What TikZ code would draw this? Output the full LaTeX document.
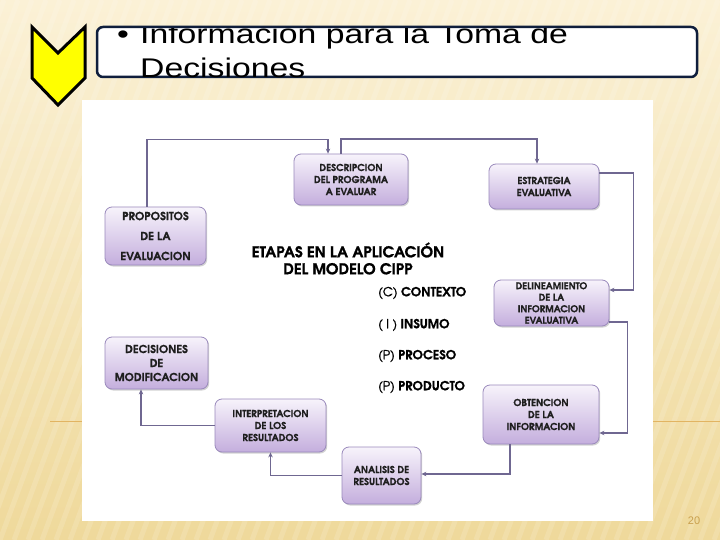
\documentclass[tikz,border=0pt]{standalone}
\usepackage{fontspec}
\setmainfont{Liberation Sans}
\newfontfamily\gothic[BoldFeatures={FakeBold=0.8}]{TeX Gyre Adventor}
\newfontfamily\gothicmed[FakeBold=0.9]{TeX Gyre Adventor}
\usetikzlibrary{arrows.meta,shadows}
\definecolor{bgtop}{HTML}{FBF1D6}
\definecolor{bgbot}{HTML}{EFD99B}
\definecolor{navy}{HTML}{0F1E3C}
\definecolor{chev}{HTML}{FFFF00}
\definecolor{boxtop}{HTML}{F7F3FB}
\definecolor{boxbot}{HTML}{C4AEDD}
\definecolor{boxline}{HTML}{9A8ABC}
\definecolor{connc}{HTML}{6F6791}
\definecolor{txt}{HTML}{1E1E1E}
\definecolor{pagenum}{HTML}{C9A04E}
\definecolor{rule}{HTML}{E2B462}
\tikzset{
  stage/.style={draw=boxline, line width=0.8pt, rounded corners=7pt,
    top color=boxtop, bottom color=boxbot, inner sep=0pt, align=center,
    text=txt, font=\gothic\bfseries\fontsize{9.6}{12}\selectfont,
    drop shadow={shadow xshift=1.2pt, shadow yshift=-1.5pt, opacity=0.35, fill=gray}},
  bigstage/.style={stage, font=\gothic\bfseries\fontsize{11}{14}\selectfont},
  conn/.style={draw=connc, line width=1.6pt, -{Stealth[length=5pt,width=4.5pt]}},
  listitem/.style={anchor=west, inner sep=0pt, text=black, font=\gothic\fontsize{12.5}{14}\selectfont},
  titletext/.style={anchor=base west, inner sep=0pt, text=black, font=\fontsize{27}{36}\selectfont}
}
\begin{document}
\begin{tikzpicture}[x=1pt,y=-1pt]
\useasboundingbox (0,0) rectangle (720,540);
% background
\shade[top color=bgtop, bottom color=bgbot] (0,0) rectangle (720,540);
\begin{scope}
  \clip (0,0) rectangle (720,540);
  \foreach \i in {-20,...,55}
    \draw[white, opacity=0.14, line width=5pt] (\i*14,540) -- (\i*14+200,0);
\end{scope}
\draw[rule, line width=0.8pt] (50,421) -- (720,421);
% white panel
\fill[white] (82,100) rectangle (653,521);
% chevron
\draw[line width=3pt, fill=chev, line join=miter] (32,27) -- (58,53) -- (85,27) -- (85,78) -- (58,105) -- (32,78) -- cycle;
% title box
\draw[navy, line width=2.5pt, fill=white, rounded corners=6pt] (97,27) rectangle (697,77);
\begin{scope}
  \clip (0,28.5) rectangle (720,540);
  \node[titletext] (bul) at (117,44) {\scalebox{1.25}[1]{•}};
  \node[titletext] (t1) at (140,44) {\scalebox{1.25}[1]{Información para la Toma de}};
  \node[titletext] (t2) at (140,78) {\scalebox{1.25}[1]{Decisiones}};
\end{scope}
% stages
\node[stage, minimum width=114pt, minimum height=51pt] (desc) at (351,179.5) {DESCRIPCION\\DEL PROGRAMA\\A EVALUAR};
\node[stage, minimum width=110pt, minimum height=45pt] (estr) at (544,186.5) {ESTRATEGIA\\EVALUATIVA};
\node[bigstage, minimum width=101pt, minimum height=58pt, font=\gothic\bfseries\fontsize{11.2}{20}\selectfont] (prop) at (155.5,236) {PROPOSITOS\\DE LA\\EVALUACION};
\node[stage, minimum width=115pt, minimum height=46pt, font=\gothic\bfseries\fontsize{9.4}{11.5}\selectfont] (delin) at (551.5,303) {DELINEAMIENTO\\DE LA\\INFORMACION\\EVALUATIVA};
\node[bigstage, minimum width=103pt, minimum height=52pt] (decis) at (156.5,363) {DECISIONES\\DE\\MODIFICACION};
\node[stage, minimum width=116pt, minimum height=59pt] (obten) at (541,414.5) {OBTENCION\\DE LA\\INFORMACION};
\node[stage, minimum width=111pt, minimum height=53pt] (interp) at (270.5,425.5) {INTERPRETACION\\DE LOS\\RESULTADOS};
\node[stage, minimum width=79pt, minimum height=57pt] (anal) at (381.5,475.5) {ANALISIS DE\\RESULTADOS};
% heading and list
\node[align=center, inner sep=0pt, text=black, font=\gothic\bfseries\fontsize{15}{17}\selectfont] (etapas) at (348,258.5) {ETAPAS EN LA APLICACIÓN\\DEL MODELO CIPP};
\node[listitem] (lc) at (378,293) {{\gothicmed (C)} \textbf{CONTEXTO}};
\node[listitem] (li) at (378,325) {{\gothicmed ( I )} \textbf{INSUMO}};
\node[listitem] (lp1) at (378,356) {{\gothicmed (P)} \textbf{PROCESO}};
\node[listitem] (lp2) at (378,387) {{\gothicmed (P)} \textbf{PRODUCTO}};
% connectors
\draw[conn] ([xshift=-8.5pt]prop.north) -- ++(0,-67) -| ([xshift=-23pt]desc.north);
\draw[conn] ([xshift=-10pt]desc.north) -- ++(0,-14.5) -| ([xshift=-7pt]estr.north);
\draw[conn] ([yshift=13.5pt]estr.east) -- ++(34,0) |- ([yshift=13pt]delin.east);
\draw[conn] ([yshift=-19pt]delin.east) -- ++(18,0) |- ([yshift=-18.5pt]obten.east);
\draw[conn] ([xshift=-31pt]obten.south) |- ([yshift=1.5pt]anal.east);
\draw[conn] (anal.west) -| (interp.south);
\draw[conn] (interp.west) -| ([xshift=-15.5pt]decis.south);
% page number
\node[text=pagenum, inner sep=0pt, font=\fontsize{11}{13}\selectfont] (pg) at (694,521) {20};
\end{tikzpicture}
\end{document}
